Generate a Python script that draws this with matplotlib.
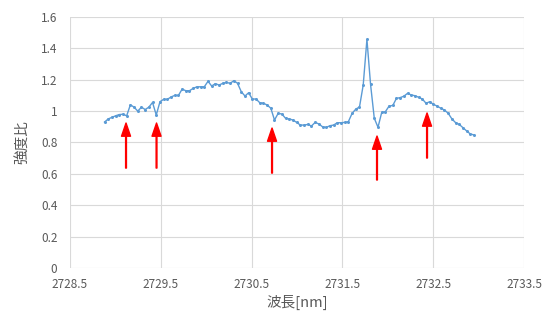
import matplotlib
matplotlib.use("Agg")
import matplotlib.pyplot as plt

plt.rcParams['font.family'] = ['Noto Sans CJK JP', 'DejaVu Sans']

# wavelength [nm]
wavelength = [
    2728.880, 2728.921, 2728.961, 2729.002, 2729.043, 2729.084, 2729.124, 2729.165,
    2729.206, 2729.246, 2729.287, 2729.328, 2729.368, 2729.409, 2729.450, 2729.491,
    2729.531, 2729.572, 2729.613, 2729.653, 2729.694, 2729.735, 2729.775, 2729.816,
    2729.857, 2729.898, 2729.938, 2729.979, 2730.020, 2730.060, 2730.101, 2730.142,
    2730.182, 2730.223, 2730.264, 2730.305, 2730.345, 2730.386, 2730.427, 2730.467,
    2730.508, 2730.549, 2730.589, 2730.630, 2730.671, 2730.712, 2730.752, 2730.793,
    2730.834, 2730.874, 2730.915, 2730.956, 2730.996, 2731.037, 2731.078, 2731.119,
    2731.159, 2731.200, 2731.241, 2731.281, 2731.322, 2731.363, 2731.403, 2731.444,
    2731.485, 2731.526, 2731.566, 2731.607, 2731.648, 2731.688, 2731.729, 2731.770,
    2731.810, 2731.851, 2731.892, 2731.933, 2731.973, 2732.014, 2732.055, 2732.095,
    2732.136, 2732.177, 2732.217, 2732.258, 2732.299, 2732.340, 2732.380, 2732.421,
    2732.462, 2732.502, 2732.543, 2732.584, 2732.624, 2732.665, 2732.706, 2732.747,
    2732.787, 2732.828, 2732.869, 2732.909, 2732.950,
]

# intensity ratio
ratio = [
    0.930, 0.950, 0.960, 0.970, 0.978, 0.980, 0.970, 1.040,
    1.025, 1.000, 1.025, 1.010, 1.025, 1.055, 0.975, 1.060,
    1.075, 1.075, 1.090, 1.100, 1.100, 1.140, 1.130, 1.130,
    1.145, 1.155, 1.155, 1.155, 1.190, 1.160, 1.175, 1.166,
    1.177, 1.183, 1.177, 1.194, 1.177, 1.124, 1.096, 1.117,
    1.077, 1.077, 1.054, 1.050, 1.039, 1.018, 0.943, 0.986,
    0.981, 0.954, 0.950, 0.943, 0.928, 0.911, 0.911, 0.915,
    0.905, 0.928, 0.918, 0.900, 0.896, 0.907, 0.911, 0.926,
    0.926, 0.928, 0.933, 0.986, 1.013, 1.026, 1.166, 1.457,
    1.170, 0.954, 0.897, 0.992, 0.996, 1.032, 1.036, 1.081,
    1.086, 1.095, 1.113, 1.103, 1.098, 1.088, 1.077, 1.050,
    1.060, 1.043, 1.032, 1.018, 1.007, 0.986, 0.950, 0.926,
    0.915, 0.894, 0.873, 0.854, 0.848,
]

# red arrows: x, tip y, tail y
arrow_x = [2729.117, 2729.453, 2730.725, 2731.881, 2732.432]
arrow_tip = [0.924, 0.924, 0.892, 0.841, 0.988]
arrow_tail = [0.637, 0.637, 0.605, 0.561, 0.701]

fig = plt.figure(figsize=(5.49, 3.2), dpi=100)
ax = fig.add_axes([0.1275, 0.1625, 0.827, 0.7845])

ax.plot(wavelength, ratio, color='#5B9BD5', lw=1.0, marker='o', ms=2.2,
        markeredgewidth=0, zorder=3)

for x, tip, tail in zip(arrow_x, arrow_tip, arrow_tail):
    ax.annotate('', xy=(x, tip), xytext=(x, tail),
                arrowprops=dict(color='red', width=0.6, headwidth=6.5,
                                headlength=9.5, shrink=0))

ax.set_xlim(2728.5, 2733.5)
ax.set_ylim(0, 1.6)
ax.set_xticks([2728.5, 2729.5, 2730.5, 2731.5, 2732.5, 2733.5])
ax.set_xticklabels(['2728.5', '2729.5', '2730.5', '2731.5', '2732.5', '2733.5'])
ax.set_yticks([0, 0.2, 0.4, 0.6, 0.8, 1.0, 1.2, 1.4, 1.6])
ax.set_yticklabels(['0', '0.2', '0.4', '0.6', '0.8', '1', '1.2', '1.4', '1.6'])

ax.grid(True, color='#D9D9D9', lw=0.8)
ax.set_axisbelow(True)
for s in ax.spines.values():
    s.set_visible(False)
ax.tick_params(length=0, labelsize=8.5, colors='#595959')
ax.tick_params(axis='y', pad=9)
ax.tick_params(axis='x', pad=7)

ax.set_xlabel('波長[nm]', fontsize=10.5, color='#595959', labelpad=3)
ax.set_ylabel('強度比', fontsize=10.5, color='#595959', labelpad=8)

fig.savefig('out.png', dpi=100)
